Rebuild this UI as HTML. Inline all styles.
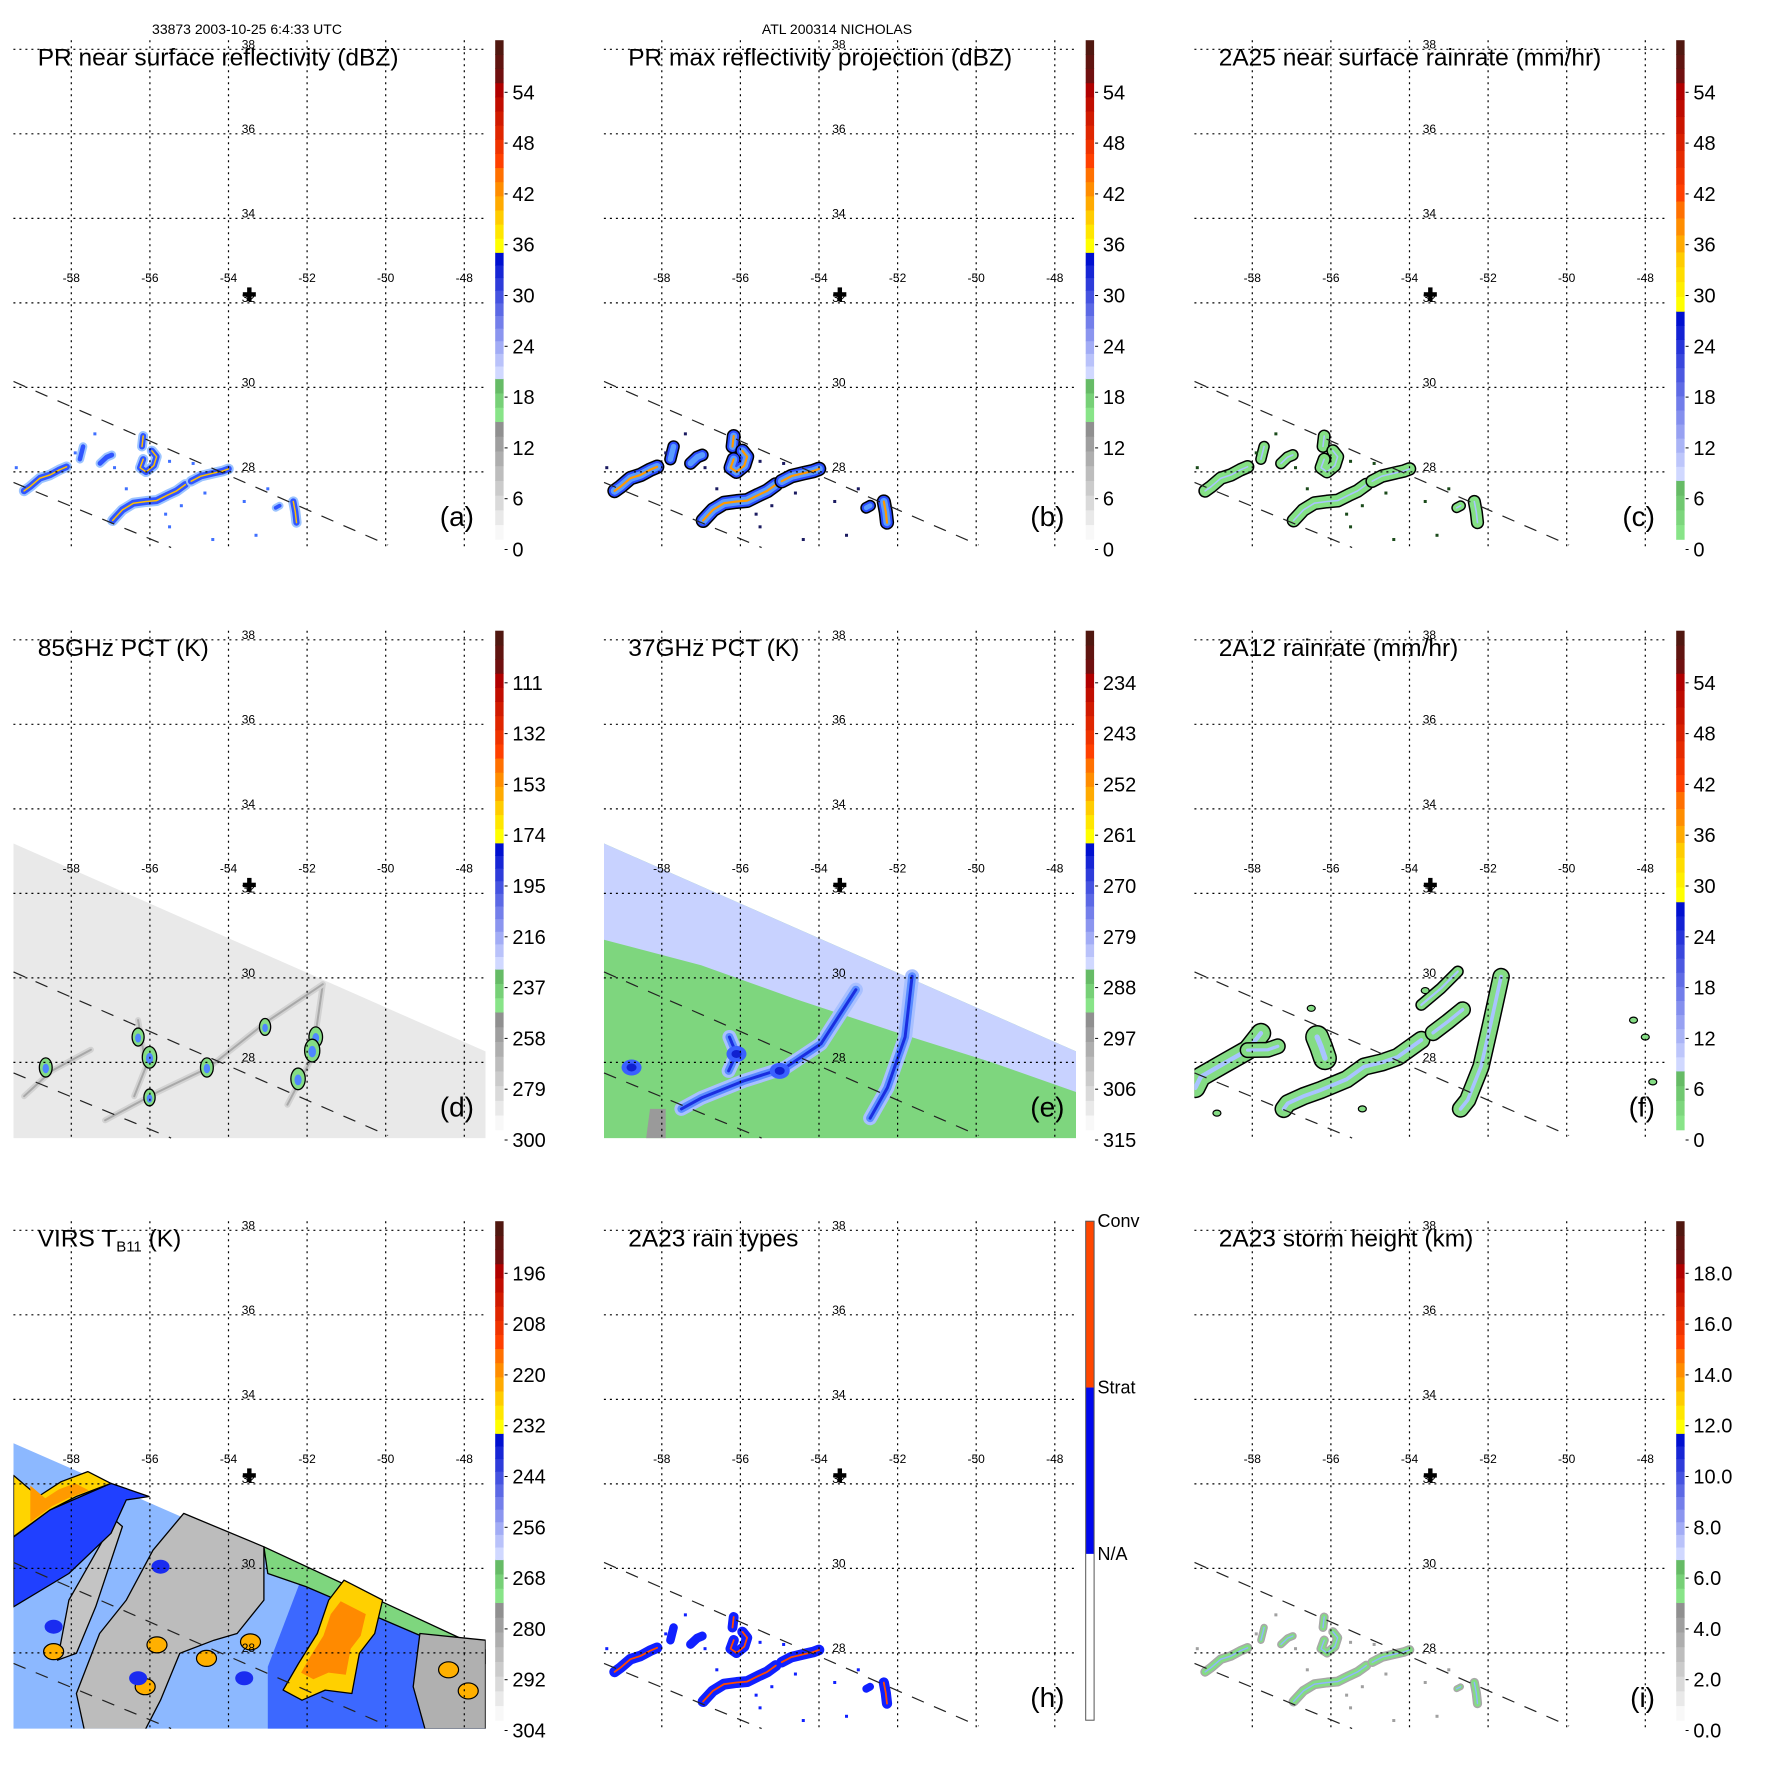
<!DOCTYPE html>
<html><head><meta charset="utf-8">
<style>
html,body{margin:0;padding:0;background:#fff;}
svg{display:block;font-family:"Liberation Sans",Arial,sans-serif;}
</style></head>
<body>
<svg id="fig" width="1771" height="1771" viewBox="0 0 1771 1771" xmlns="http://www.w3.org/2000/svg">
<rect x="0" y="0" width="1771" height="1771" fill="#fff"/>
<text x="247" y="34" font-size="14" text-anchor="middle">33873 2003-10-25 6:4:33 UTC</text>
<text x="837" y="34" font-size="14" text-anchor="middle">ATL 200314 NICHOLAS</text>
</svg>
<script>
// ---------- data ----------
const lonTicks=[-58,-56,-54,-52,-50,-48];
const latTicks=[38,36,34,32,30,28];
const stormCenter=[-53.47,32.2];
const prEdge1=[[-59.47,30.14],[-49.94,26.27]];
const prEdge2=[[-59.47,27.75],[-55.46,26.21]];
const tmiSwath=[[-59.47,33.18],[-47.46,28.26],[-47.46,26.2],[-59.47,26.2]];
const virsSwath=[[-59.47,32.96],[-47.46,28.07],[-47.46,26.2],[-59.47,26.2]];
// PR rain bands (lon,lat) and intensity 0-1
const prBands=[
 [[-59.2,27.55],[-59.05,27.65],[-58.8,27.85],[-58.54,27.93],[-58.3,28.05],[-58.12,28.12]],
 [[-57.78,28.3],[-57.7,28.6]],
 [[-57.27,28.2],[-57.1,28.35],[-56.97,28.4]],
 [[-56.17,28.85],[-56.2,28.6]],
 [[-55.95,28.5],[-55.83,28.36],[-55.9,28.15],[-56.1,28.0],[-56.25,28.1],[-56.17,28.3]],
 [[-56.95,26.85],[-56.7,27.1],[-56.42,27.26],[-56.1,27.3],[-55.83,27.32],[-55.55,27.45],[-55.32,27.55],[-55.1,27.7]],
 [[-54.95,27.78],[-54.7,27.9],[-54.39,27.97],[-54.15,28.02],[-54.0,28.07]],
 [[-52.35,27.3],[-52.3,27.05],[-52.27,26.8]],
 [[-52.8,27.15],[-52.7,27.2]]
];
const prIntensity=[0.8,0.5,0.55,0.7,0.75,0.85,0.8,0.75,0.4];
const prDots=[[-57.4,28.9],[-56.6,27.6],[-55.6,27.0],[-55.2,27.2],[-54.6,27.5],[-53.0,27.6],[-53.3,26.5],[-54.4,26.4],[-55.5,26.7],[-57.9,28.45],[-56.9,28.1],[-55.5,28.25],[-54.9,28.2],[-53.6,27.3],[-59.4,28.1]];
// 2A12 bands
const tmiBands=[
 [[-59.45,27.4],[-59.31,27.66],[-58.71,27.98],[-58.12,28.29],[-57.9,28.55],[-57.78,28.69]],
 [[-58.12,28.29],[-57.6,28.3],[-57.35,28.38]],
 [[-56.35,28.6],[-56.25,28.37],[-56.15,28.1]],
 [[-57.2,26.9],[-57.1,27.03],[-56.7,27.2],[-56.25,27.35],[-55.6,27.6],[-55.15,27.9],[-54.7,28.0],[-54.3,28.13],[-53.7,28.53]],
 [[-53.7,29.36],[-53.2,29.75],[-52.77,30.15]],
 [[-53.4,28.7],[-53.03,28.96],[-52.65,29.25]],
 [[-51.67,30.03],[-51.93,28.93],[-52.18,27.9],[-52.52,27.11],[-52.7,26.9]]
];
const tmiIntensity=[0.8,0.5,1.0,0.65,0.25,0.55,0.6];
const tmiDots=[[-56.5,29.28],[-47.81,27.54],[-48.3,29.0],[-48.0,28.6],[-58.9,26.8],[-55.2,26.9],[-53.6,29.7]];
// 85GHz streaks and blobs
const pct85Streaks=[
 [[-51.6,29.85],[-51.87,28.12],[-52.5,27.0]],
 [[-57.14,26.63],[-55.8,27.3],[-54.5,27.88],[-53.03,28.96],[-51.6,29.85]],
 [[-59.2,27.2],[-58.5,27.8],[-57.5,28.3]],
 [[-56.3,29.0],[-56.1,27.9],[-56.4,27.2]]
];
const pct85Blobs=[[-58.65,27.88],[-56.3,28.6],[-56.01,28.12],[-54.55,27.88],[-53.07,28.84],[-51.78,28.6],[-51.87,28.28],[-52.23,27.61],[-56.01,27.17]];
const pct85BlobValue=[0.6,0.5,0.8,0.6,0.4,0.7,0.9,0.8,0.4];
// 37GHz
const pct37Cold=[[-59.47,33.18],[-47.46,28.26],[-47.46,27.3],[-49.6,28.0],[-52.0,28.7],[-54.6,29.5],[-57.0,30.3],[-59.47,30.9]];
const pct37Streaks=[
 [[-51.63,30.04],[-51.81,28.6],[-52.26,27.4],[-52.7,26.68]],
 [[-53.06,29.72],[-53.95,28.44],[-54.85,27.88],[-55.92,27.56],[-56.99,27.16],[-57.5,26.9]],
 [[-56.28,28.6],[-56.1,28.2],[-56.3,27.8]]
];
const pct37Blobs=[[-58.77,27.88],[-56.1,28.2],[-55.0,27.8]];
const pct37Warm=[[-58.3,26.9],[-57.9,26.9],[-57.9,26.2],[-58.4,26.2]];
// VIRS regions
const virsYellow=[[-59.47,31.62],[-59.47,30.75],[-58.55,31.38],[-57.87,31.70],[-56.99,32.01],[-57.58,32.29],[-58.26,32.05],[-58.84,31.70],[-59.47,32.2]];
const virsDeepBlue=[[-59.47,30.74],[-59.47,29.09],[-58.06,29.88],[-56.99,30.83],[-56.6,31.62],[-56.02,31.70],[-56.99,32.01],[-58.55,31.38]];
const virsGrayMain=[[-55.14,31.30],[-53.10,30.51],[-53.10,29.25],[-53.78,28.46],[-54.37,28.30],[-55.24,27.99],[-55.73,26.88],[-56.12,26.18],[-57.67,26.18],[-57.87,27.04],[-57.28,28.46],[-56.6,29.25],[-55.92,30.43]];
const virsGrayLeft=[[-58.06,29.25],[-56.9,31.15],[-56.7,30.99],[-57.38,29.09],[-57.87,27.99],[-58.35,27.83]];
const virsGrayRight=[[-49.13,28.46],[-47.46,28.3],[-47.46,26.2],[-49.0,26.2],[-49.3,27.2]];
const virsRightBlue=[[-52.03,30.04],[-47.46,28.07],[-47.46,26.2],[-53.0,26.18],[-53.0,27.67]];
const virsGreenStrip=[[-53.1,30.51],[-47.46,28.07],[-47.46,27.75],[-52.03,29.57],[-53.0,29.88]];
const virsWarmCore=[[-51.74,28.46],[-51.45,29.25],[-51.06,29.72],[-50.08,29.25],[-50.28,28.46],[-50.67,27.99],[-50.86,27.04],[-51.54,27.12],[-52.13,26.88],[-52.61,27.12],[-52.22,27.75]];
const virsSmallCold=[[-55.82,28.19],[-54.56,27.87],[-53.44,28.26],[-58.45,28.03],[-56.12,27.2],[-48.4,27.6],[-47.9,27.1]];
const virsDarkSpots=[[-58.45,28.62],[-55.73,30.04],[-56.3,27.4],[-53.6,27.4]];
// colorbar labels
const cbDbz=['0','6','12','18','24','30','36','42','48','54'];
const cb85=['300','279','258','237','216','195','174','153','132','111'];
const cb37=['315','306','297','288','279','270','261','252','243','234'];
const cbVirs=['304','292','280','268','256','244','232','220','208','196'];
const cbHeight=['0.0','2.0','4.0','6.0','8.0','10.0','12.0','14.0','16.0','18.0'];
const rainTypeLabels=['Conv','Strat','N/A'];

// ---------- helpers ----------
const NS='http://www.w3.org/2000/svg';
const svg=document.getElementById('fig');
function mk(parent,tag,attrs,name){
 const el=document.createElementNS(NS,tag);
 for(const k in attrs) el.setAttribute(k,attrs[k]);
 
 
 parent.appendChild(el);return el;
}
const X=lon=>71.3+(lon+58)*39.3;
const Y=lat=>49.3+(38-lat)*42.26;
const pts=a=>a.map(p=>X(p[0]).toFixed(1)+','+Y(p[1]).toFixed(1)).join(' ');
function band(g,line,layers,name){
 layers.forEach(L=>{mk(g,'polyline',{points:pts(line),fill:'none',stroke:L[0],'stroke-width':L[1],'stroke-linecap':'round','stroke-linejoin':'round'},name);});
}
function poly(g,arr,fill,name,stroke){
 const a={points:pts(arr),fill:fill};
 if(stroke){a.stroke=stroke;a['stroke-width']=1.3;a['stroke-linejoin']='round';}
 return mk(g,'polygon',a,name);
}
function hex2(c){return [1,3,5].map(i=>parseInt(c.substr(i,2),16));}
function mix(a,b,t){const A=hex2(a),B=hex2(b);return 'rgb('+A.map((v,i)=>Math.round(v+(B[i]-v)*t)).join(',')+')';}
const schemeA=[[0,.236,'#f8f8f8','#909090',8],[.236,.322,'#88e488','#66bb66',3],[.322,.575,'#d0d8ff','#0010d0',10],[.575,.66,'#ffff00','#ffcc00',3],[.66,.745,'#ffaa00','#ff7000',3],[.745,.915,'#ff4000','#b00000',6],[.915,1,'#701010','#501810',3]];
const schemeC=[[0,.118,'#88e488','#66bb66',4],[.118,.457,'#d0d8ff','#0010d0',12],[.457,.576,'#ffff00','#ffcc00',4],[.576,.678,'#ffaa00','#ff7000',3],[.678,.915,'#ff4000','#b00000',7],[.915,1,'#701010','#501810',3]];

const panels=[
 {id:'a',c:0,r:0,title:'PR near surface reflectivity (dBZ)',cb:cbDbz,sc:schemeA,kind:'prA'},
 {id:'b',c:1,r:0,title:'PR max reflectivity projection (dBZ)',cb:cbDbz,sc:schemeA,kind:'prB'},
 {id:'c',c:2,r:0,title:'2A25 near surface rainrate (mm/hr)',cb:cbDbz,sc:schemeC,kind:'prC'},
 {id:'d',c:0,r:1,title:'85GHz PCT (K)',cb:cb85,sc:schemeA,kind:'p85'},
 {id:'e',c:1,r:1,title:'37GHz PCT (K)',cb:cb37,sc:schemeA,kind:'p37'},
 {id:'f',c:2,r:1,title:'2A12 rainrate (mm/hr)',cb:cbDbz,sc:schemeC,kind:'tmi'},
 {id:'g',c:0,r:2,title:'VIRS',cb:cbVirs,sc:schemeA,kind:'virs'},
 {id:'h',c:1,r:2,title:'2A23 rain types',cb:null,sc:null,kind:'prH'},
 {id:'i',c:2,r:2,title:'2A23 storm height (km)',cb:cbHeight,sc:schemeA,kind:'prI'}
];
const OFF=590.5;
const defs=mk(svg,'defs',{},'defs');
const cp=mk(defs,'clipPath',{id:'plotclip'},'plot-clip');
mk(cp,'rect',{x:13.4,y:40.2,width:472.3,height:507.4},'plot-clip-rect');

function prLayers(kind,w,it){
 if(kind==='prA') return [['#9cc4ff',w+1],['#2f55ff',w-3]].concat(it>=.7?[['#ffc000',1.5]]:[]);
 if(kind==='prB') return [['#000',w+5],['#2a4cff',w+2],['#5a9cff',w-2]].concat(it>=.7?[['#ff9a00',2.2]]:[]);
 if(kind==='prC') return [['#000',w+4],['#84e084',w+1],['#a8c4ff',1.6]];
 if(kind==='prH') return [['#1020ff',w+1]].concat(it>=.6?[['#ff4a00',1.8]]:[]);
 return [['#a8a8a8',w],['#84dc84',w-3],['#90b4ff',1.4]];
}
const dotColor={prA:'#4070ff',prB:'#1a1a60',prC:'#1a4a1a',prH:'#1020ff',prI:'#a0a0a0'};

panels.forEach(P=>{
 const g=mk(svg,'g',{transform:'translate('+(P.c*OFF)+','+(P.r*OFF)+')'},'panel-'+P.id);
 const data=mk(g,'g',{'clip-path':'url(#plotclip)'},'data-layer-'+P.id);
 const k=P.kind;
 if(k.startsWith('pr')){
  prBands.forEach((b,i)=>{const w=4+prIntensity[i]*7;band(data,b,prLayers(k,w,prIntensity[i]),'rain-band-'+i);});
  prDots.forEach((d,i)=>{mk(data,'rect',{x:X(d[0])-1.5,y:Y(d[1])-1.5,width:3,height:3,fill:dotColor[k]},'rain-pixel-'+i);});
 } else if(k==='tmi'){
  tmiBands.forEach((b,i)=>{const w=5+tmiIntensity[i]*16;band(data,b,[['#000',w+3],['#84dc84',w],['#a8c4ff',Math.max(1.5,w*0.25)]],'rain-area-'+i);});
  tmiDots.forEach((d,i)=>{mk(data,'ellipse',{cx:X(d[0]),cy:Y(d[1]),rx:4,ry:3,fill:'#84dc84',stroke:'#000','stroke-width':1.2},'rain-speck-'+i);});
 } else if(k==='p85'){
  poly(data,tmiSwath,'#e9e9e9','tmi-swath');
  pct85Streaks.forEach((s,i)=>band(data,s,[['#d2d2d2',6],['#a8a8a8',2]],'ice-streak-'+i));
  pct85Blobs.forEach((b,i)=>{const v=pct85BlobValue[i];
   mk(data,'ellipse',{cx:X(b[0]),cy:Y(b[1]),rx:4+v*4,ry:6+v*6,fill:'#84dc84',stroke:'#000','stroke-width':1.3},'scatter-blob-'+i);
   mk(data,'ellipse',{cx:X(b[0]),cy:Y(b[1])+1,rx:2+v*2,ry:3+v*3,fill:'#4f86ff'},'scatter-core-'+i);});
 } else if(k==='p37'){
  poly(data,tmiSwath,'#7ed67e','tmi-swath');
  poly(data,pct37Cold,'#c8d2ff','cold-region');
  poly(data,pct37Warm,'#9a9a9a','warm-patch');
  pct37Streaks.forEach((s,i)=>band(data,s,[['#a8c0ff',14],['#5a8cff',8],['#1a2ee0',3]],'emission-streak-'+i));
  pct37Blobs.forEach((b,i)=>{mk(data,'ellipse',{cx:X(b[0]),cy:Y(b[1]),rx:10,ry:8,fill:'#3a60ff'},'cold-blob-'+i);
   mk(data,'ellipse',{cx:X(b[0]),cy:Y(b[1]),rx:5,ry:4,fill:'#1020d0'},'cold-blob-core-'+i);});
 } else if(k==='virs'){
  poly(data,virsSwath,'#8cb8ff','virs-swath');
  poly(data,virsRightBlue,'#3c68ff','cold-cloud-right');
  poly(data,virsGreenStrip,'#7ed67e','green-strip','#000');
  poly(data,virsGrayMain,'#bcbcbc','warm-gap','#000');
  poly(data,virsGrayLeft,'#c4c4c4','warm-channel','#000');
  poly(data,virsGrayRight,'#b0b0b0','warm-patch-right','#000');
  poly(data,virsDeepBlue,'#2040ff','deep-cloud-band','#000');
  poly(data,virsYellow,'#ffd400','cold-top-left','#000');
  poly(data,virsWarmCore,'#ffd000','cold-top-right','#000');
  const shr=(arr,f,cx,cy)=>arr.map(p=>[cx+(p[0]-cx)*f,cy+(p[1]-cy)*f]);
  poly(data,shr(virsWarmCore,0.65,-51.3,28.3),'#ff8a00','coldest-core-right');
  poly(data,shr(virsYellow,0.6,-58.4,31.6),'#ff9a00','coldest-core-left');
  virsSmallCold.forEach((s,i)=>{mk(data,'ellipse',{cx:X(s[0]),cy:Y(s[1]),rx:10,ry:8,fill:'#ffb000',stroke:'#000','stroke-width':1.2},'cold-cell-'+i);});
  virsDarkSpots.forEach((s,i)=>{mk(data,'ellipse',{cx:X(s[0]),cy:Y(s[1]),rx:9,ry:7,fill:'#1a2cf0'},'dark-cell-'+i);});
 }
 // grid
 lonTicks.forEach(l=>mk(g,'line',{x1:X(l),x2:X(l),y1:40.2,y2:547.6,stroke:'#000','stroke-width':1.2,'stroke-dasharray':'2,4'},'lon-grid-'+l));
 latTicks.forEach(l=>mk(g,'line',{x1:13.4,x2:485.7,y1:Y(l),y2:Y(l),stroke:'#000','stroke-width':1.2,'stroke-dasharray':'2,4'},'lat-grid-'+l));
 lonTicks.forEach(l=>{const t=mk(g,'text',{x:X(l),y:282,'font-size':12,'text-anchor':'middle'},'lon-label');t.textContent=String(l);});
 latTicks.forEach(l=>{const t=mk(g,'text',{x:241.7,y:Y(l)-1,'font-size':12},'lat-label');t.textContent=String(l);});
 // PR swath edges
 [prEdge1,prEdge2].forEach((e,i)=>mk(g,'line',{x1:X(e[0][0]),y1:Y(e[0][1]),x2:X(e[1][0]),y2:Y(e[1][1]),stroke:'#222','stroke-width':1.2,'stroke-dasharray':'13,11'},'pr-swath-edge-'+i));
 // storm center
 const sx=X(stormCenter[0]),sy=Y(stormCenter[1]);
 mk(g,'rect',{x:sx-6.5,y:sy-2.2,width:13,height:4.4,fill:'#000'},'storm-center-h');
 mk(g,'rect',{x:sx-2.2,y:sy-7,width:4.4,height:14,fill:'#000'},'storm-center-v');
 // title
 const tt=mk(g,'text',{x:37.7,y:65.7,'font-size':24.5},'panel-title');
 if(P.kind==='virs'){
  tt.textContent='VIRS T';
  const s=mk(tt,'tspan',{'font-size':15,dy:5},'title-subscript');s.textContent='B11';
  const r=mk(tt,'tspan',{dy:-5},'title-unit');r.textContent=' (K)';
 } else tt.textContent=P.title;
 // colorbar
 const cbx=495.2,cbw=8.4,cbTop=40.2,cbBot=539.2,H=cbBot-cbTop;
 if(P.sc){
  P.sc.forEach(s=>{for(let i=0;i<s[4];i++){const f0=s[0]+(s[1]-s[0])*i/s[4],f1=s[0]+(s[1]-s[0])*(i+1)/s[4];
   mk(g,'rect',{x:cbx,y:cbBot-f1*H,width:cbw,height:(f1-f0)*H+0.6,fill:mix(s[2],s[3],s[4]>1?i/(s[4]-1):0)},'colorbar-bin');}});
  P.cb.forEach((lab,i)=>{const yy=549.5-i*50.8;
   mk(g,'line',{x1:cbx+cbw+1,x2:cbx+cbw+4,y1:yy,y2:yy,stroke:'#000','stroke-width':1},'colorbar-tick');
   const t=mk(g,'text',{x:512.4,y:yy+7,'font-size':20},'colorbar-label');t.textContent=lab;});
 } else {
  mk(g,'rect',{x:cbx,y:cbTop,width:cbw,height:H/3,fill:'#ff4600'},'colorbar-conv');
  mk(g,'rect',{x:cbx,y:cbTop+H/3,width:cbw,height:H/3,fill:'#0008ee'},'colorbar-strat');
  mk(g,'rect',{x:cbx,y:cbTop,width:cbw,height:H,fill:'none',stroke:'#555','stroke-width':1},'colorbar-frame');
  rainTypeLabels.forEach((lab,i)=>{const t=mk(g,'text',{x:507,y:cbTop+i*H/3+6,'font-size':18},'rain-type-label');t.textContent=lab;});
 }
 if(P.id!=='g'){const t=mk(g,'text',{x:474,y:526,'font-size':28,'text-anchor':'end'},'panel-letter');t.textContent='('+P.id+')';}
});
</script>
</body></html>
